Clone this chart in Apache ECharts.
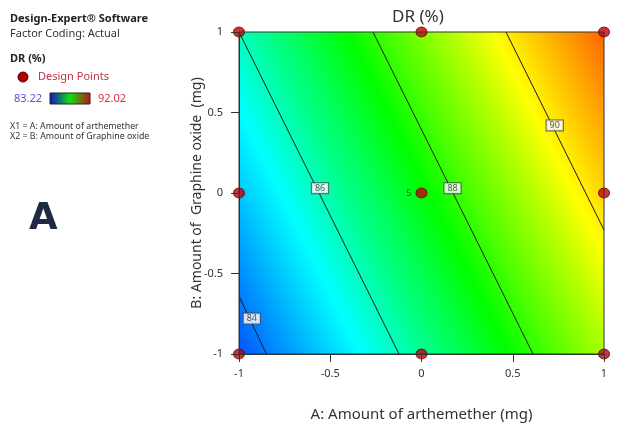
<!DOCTYPE html>
<html>
<head>
<meta charset="utf-8">
<script src="https://cdn.jsdelivr.net/npm/echarts@6/dist/echarts.min.js"></script>
<style>html,body{margin:0;padding:0;background:#fff;}#chart{width:619px;height:425px;}</style>
</head>
<body>
<div id="chart"></div>
<script>
// ---- data ----
const axisTicks = [-1, -0.5, 0, 0.5, 1];
const designA = [-1, 0, 1, -1, 0, 1, -1, 0, 1];
const designB = [-1, -1, -1, 0, 0, 0, 1, 1, 1];
const designReplicates = [1, 1, 1, 1, 5, 1, 1, 1, 1];
// DR (%) estimated at the corners of the design space
const cornerA = [-1, 1, -1, 1];
const cornerB = [-1, -1, 1, 1];
const cornerDR = [83.6, 89.06, 86.0, 91.46];
// contour lines (straight)
const contourLevels = [84, 86, 88, 90];
const contourStartA = [-1, -1, -0.266, 0.463];
const contourStartB = [-0.64, 1, 1, 1];
const contourEndA = [-0.85, -0.123, 0.611, 1];
const contourEndB = [-1, -1, -1, -0.23];
const contourLabelA = [-0.93, -0.556, 0.17, 0.73];
const contourLabelB = [-0.78, 0.03, 0.03, 0.42];
const scaleMin = 83.22, scaleMax = 92.02;
const scaleColors = ['#0030ff', '#00ffff', '#00ff00', '#ffff00', '#ff3000'];

const chart = echarts.init(document.getElementById('chart'), null, {renderer: 'canvas'});

const surfaceData = [[cornerA[0], cornerB[0], cornerDR[0], cornerDR[1], cornerDR[2]]];

function renderSurface(params, api) {
  const p00 = api.coord([cornerA[0], cornerB[0]]);
  const p10 = api.coord([cornerA[1], cornerB[1]]);
  const p01 = api.coord([cornerA[2], cornerB[2]]);
  const v00 = cornerDR[0], v10 = cornerDR[1], v01 = cornerDR[2];
  const W = p10[0] - p00[0];
  const H = p00[1] - p01[1];
  const gx = (v10 - v00) / W;
  const gy = -(v01 - v00) / H;
  const g2 = gx * gx + gy * gy;
  const ts = (scaleMin - v00) / g2, te = (scaleMax - v00) / g2;
  const x0 = p00[0] + gx * ts, y0 = p00[1] + gy * ts;
  const x1 = p00[0] + gx * te, y1 = p00[1] + gy * te;
  const stops = scaleColors.map((c, i) => ({offset: i / (scaleColors.length - 1), color: c}));
  return {
    type: 'rect',
    shape: {x: p00[0], y: p01[1], width: W, height: H},
    style: {fill: new echarts.graphic.LinearGradient(x0, y0, x1, y1, stops, true)},
    silent: true
  };
}

const contourSeries = contourLevels.map((lv, i) => ({
  type: 'line',
  data: [[contourStartA[i], contourStartB[i]], [contourEndA[i], contourEndB[i]]],
  symbol: 'none',
  lineStyle: {color: '#1a1a1a', width: 1},
  z: 3,
  silent: true
}));

const labelSeries = {
  type: 'scatter',
  data: contourLevels.map((lv, i) => [contourLabelA[i], contourLabelB[i], lv]),
  symbolSize: 0,
  z: 4,
  label: {
    show: true, position: 'inside',
    formatter: p => String(p.value[2]),
    fontSize: 9, color: '#333', fontFamily: 'Noto Sans',
    backgroundColor: '#fff', borderColor: '#444', borderWidth: 1,
    padding: [1, 3, 0, 3]
  },
  silent: true
};

const pointSeries = {
  type: 'scatter',
  data: designA.map((a, i) => [a, designB[i], designReplicates[i]]),
  symbol: 'circle',
  symbolSize: [11, 10],
  itemStyle: {color: '#c40000', borderColor: '#6a0000', borderWidth: 1},
  z: 5,
  label: {
    show: true, position: 'left', distance: 4,
    formatter: p => p.value[2] > 1 ? String(p.value[2]) : '',
    fontSize: 9, color: '#333', fontFamily: 'Noto Sans'
  },
  clip: false,
  silent: true
};

const font = 'Noto Sans';
const option = {
  animation: false,
  textStyle: {fontFamily: font},
  grid: {left: 239, top: 32, right: 15, bottom: 71, containLabel: false, outerBoundsMode: 'none',
    show: true, borderColor: '#333', borderWidth: 1, backgroundColor: 'transparent', z: 6},
  xAxis: {
    type: 'value', min: axisTicks[0], max: axisTicks[axisTicks.length - 1], interval: 0.5,
    axisLine: {show: true, onZero: false, lineStyle: {color: '#333'}},
    axisTick: {show: true, length: 8, lineStyle: {color: '#333'}},
    splitLine: {show: false},
    axisLabel: {fontSize: 11, color: '#333', margin: 14, formatter: v => String(v)},
    name: 'A: Amount of arthemether (mg)', nameLocation: 'middle', nameGap: 53, nameMoveOverlap: false,
    nameTextStyle: {fontSize: 15, color: '#333', fontFamily: font},
    z: 6
  },
  yAxis: {
    type: 'value', min: axisTicks[0], max: axisTicks[axisTicks.length - 1], interval: 0.5,
    axisLine: {show: true, onZero: false, lineStyle: {color: '#333'}},
    axisTick: {show: true, length: 8, lineStyle: {color: '#333'}},
    splitLine: {show: false},
    axisLabel: {fontSize: 11, color: '#333', margin: 16, formatter: v => String(v)},
    name: 'B: Amount of  Graphine oxide  (mg)', nameLocation: 'middle', nameGap: 35, nameMoveOverlap: false,
    nameTextStyle: {fontSize: 14, color: '#333', fontFamily: font},
    z: 6
  },
  series: [
    {type: 'custom', data: surfaceData, renderItem: renderSurface, z: 1, silent: true, clip: true},
    ...contourSeries,
    labelSeries,
    pointSeries
  ],
  graphic: [
    {type: 'text', left: 392, top: 9, style: {text: 'DR (%)', fontSize: 17, fill: '#333', fontFamily: font}},
    {type: 'text', left: 10, top: 13, style: {text: 'Design-Expert® Software', fontSize: 11, fontWeight: 'bold', fill: '#222', fontFamily: font}},
    {type: 'text', left: 10, top: 28, style: {text: 'Factor Coding: Actual', fontSize: 11, fill: '#333', fontFamily: font}},
    {type: 'text', left: 10, top: 53, style: {text: 'DR (%)', fontSize: 11, fontWeight: 'bold', fill: '#222', fontFamily: font}},
    {type: 'circle', shape: {cx: 23, cy: 77, r: 5}, style: {fill: '#b00000', stroke: '#500000', lineWidth: 1}},
    {type: 'text', left: 38, top: 71, style: {text: 'Design Points', fontSize: 11, fill: '#c0304a', fontFamily: font}},
    {type: 'text', left: 14, top: 93, style: {text: '83.22', fontSize: 11, fill: '#5555e0', fontFamily: font}},
    {type: 'rect', shape: {x: 50, y: 93, width: 40, height: 11},
      style: {stroke: '#222', lineWidth: 1, fill: new echarts.graphic.LinearGradient(0, 0, 1, 0, [
        {offset: 0, color: '#1010c8'}, {offset: 0.5, color: '#10e010'}, {offset: 1, color: '#c01010'}])}},
    {type: 'text', left: 98, top: 93, style: {text: '92.02', fontSize: 11, fill: '#e03040', fontFamily: font}},
    {type: 'text', left: 10, top: 122, style: {text: 'X1 = A: Amount of arthemether', fontSize: 8.8, fill: '#333', fontFamily: font}},
    {type: 'text', left: 10, top: 132, style: {text: 'X2 = B: Amount of Graphine oxide', fontSize: 8.8, fill: '#333', fontFamily: font}},
    {type: 'text', left: 29, top: 201, style: {text: 'A', fontSize: 37, fontWeight: 'bold', fill: '#1f2a44', fontFamily: 'DejaVu Sans'}}
  ]
};
chart.setOption(option);
</script>
</body>
</html>
